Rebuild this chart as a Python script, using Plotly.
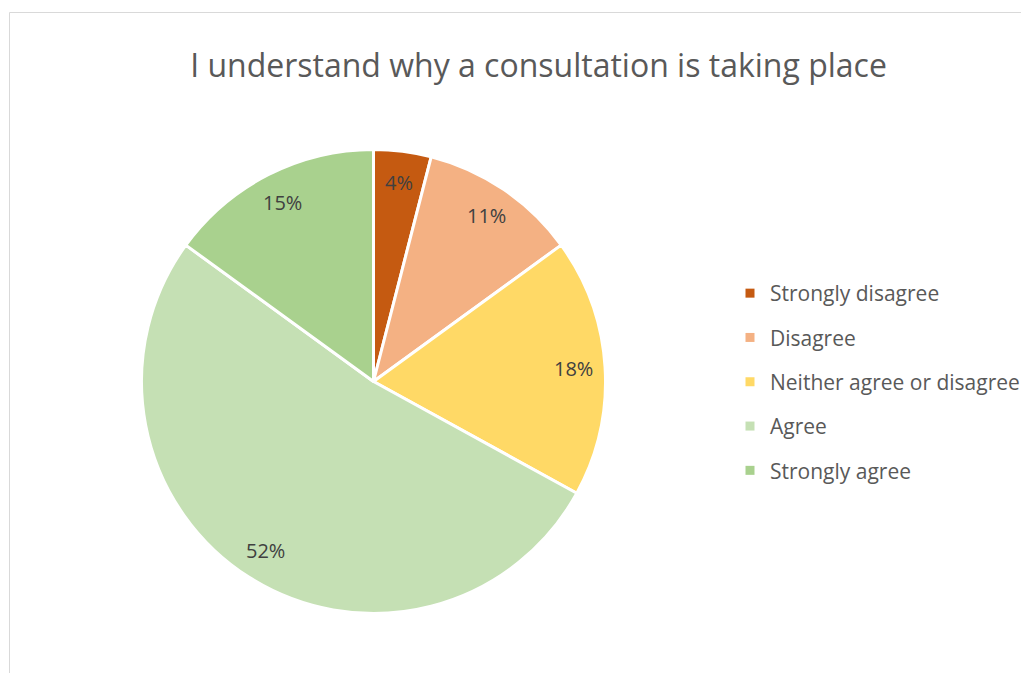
import math
import plotly.graph_objects as go

categories = ["Strongly disagree", "Disagree", "Neither agree or disagree", "Agree", "Strongly agree"]
values = [4, 11, 18, 52, 15]
colors = ["#C55A11", "#F4B183", "#FFD966", "#C5E0B4", "#A9D18E"]
title_text = "I understand why a consultation is taking place"

# page has an 8px body margin; work in figure coordinates
OFF = 8
W, H = 1029, 673
cx_px, cy_px, R_px = 373.5 - OFF, 381.5 - OFF, 232.0

dom_x = [(cx_px - R_px) / W, (cx_px + R_px) / W]
dom_y = [(H - cy_px - R_px) / H, (H - cy_px + R_px) / H]

fig = go.Figure()
fig.add_trace(go.Pie(
    labels=categories, values=values, sort=False, direction="clockwise",
    rotation=0, marker=dict(colors=colors, line=dict(color="white", width=3)),
    textinfo="none", hoverinfo="label+percent", showlegend=False,
    domain=dict(x=dom_x, y=dom_y),
))

# legend entries
for i, (c, col) in enumerate(zip(categories, colors)):
    fig.add_trace(go.Scatter(x=[None], y=[None], mode="markers", name=c,
                             legendgroup=f"g{i}",
                             marker=dict(symbol="square", size=9, color=col)))

# percentage labels
total = sum(values)
cum = 0
for v in values:
    mid = (cum + v / 2) / total * 2 * math.pi
    cum += v
    r = 0.865 * R_px
    px = cx_px + r * math.sin(mid)
    py = cy_px - r * math.cos(mid)
    fig.add_annotation(x=px / W, y=(H - py) / H, xref="paper", yref="paper",
                       xanchor="center", yanchor="middle",
                       text=f"{round(v / total * 100)}%", showarrow=False,
                       font=dict(family="Open Sans", size=20, color="#404040"))

fig.add_shape(type="rect", xref="paper", yref="paper",
              x0=(9.5 - OFF) / W, x1=1.02, y0=-0.02, y1=(H - (12.5 - OFF)) / H,
              line=dict(color="#D9D9D9", width=1), fillcolor="rgba(0,0,0,0)", layer="below")

fig.update_layout(
    width=W, height=H,
    margin=dict(l=0, r=0, t=0, b=0),
    paper_bgcolor="white", plot_bgcolor="white",
    title=dict(text=title_text, x=(538.5 - OFF) / W, xanchor="center", y=(H - (66 - OFF)) / H,
               yanchor="middle",
               font=dict(family="Open Sans", size=32, color="#595959")),
    xaxis=dict(visible=False), yaxis=dict(visible=False),
    legend=dict(x=(730 - OFF) / W, xanchor="left", y=(H - (382 - OFF)) / H, yanchor="middle",
                font=dict(family="Open Sans", size=21, color="#595959"),
                tracegroupgap=14, itemsizing="trace", bgcolor="rgba(0,0,0,0)"),
)

fig.write_html("out.html")
